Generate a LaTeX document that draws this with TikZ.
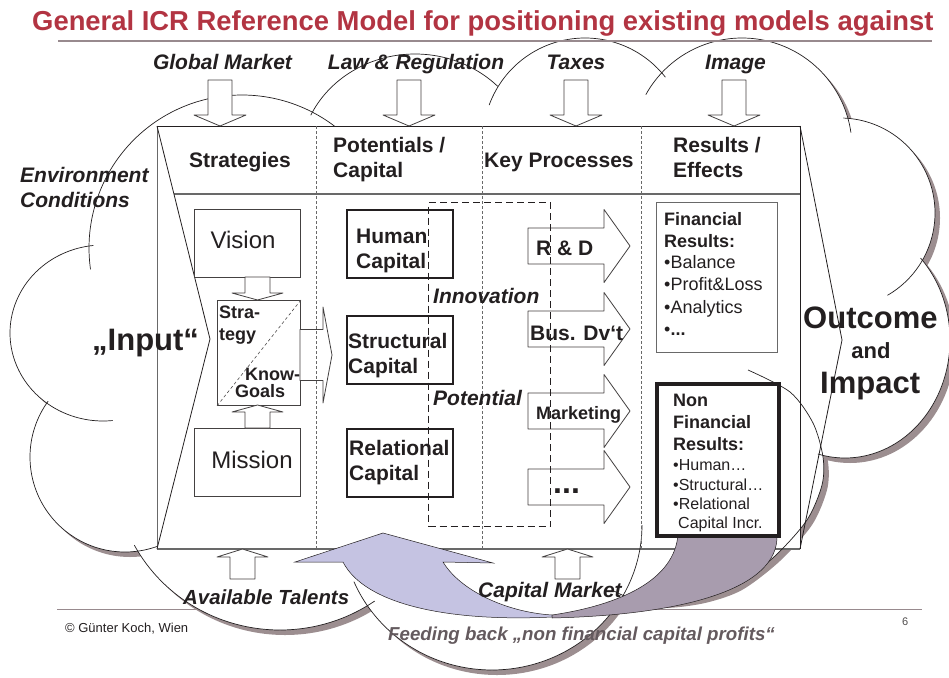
\documentclass[tikz,border=0pt]{standalone}
\usepackage{fontspec}
\setmainfont{Liberation Sans}
\definecolor{ink}{RGB}{35,31,32}
\definecolor{titlered}{RGB}{178,52,66}
\definecolor{shadowc}{RGB}{156,142,144}
\definecolor{rulec}{RGB}{152,138,142}
\definecolor{lav}{RGB}{197,195,226}
\definecolor{mauve}{RGB}{168,156,174}
\definecolor{feedc}{RGB}{100,90,94}
\definecolor{framec}{RGB}{105,105,105}
\newcommand\cloudshapes[1]{%
  \fill[#1] (242,248) circle[radius=153pt];
  \fill[#1] (415,160) ellipse[x radius=115pt,y radius=106pt];
  \fill[#1] (585,140) circle[radius=102pt];
  \fill[#1] (742,148) circle[radius=110pt];
  \fill[#1] (840,213) circle[radius=95pt];
  \fill[#1] (845,340) ellipse[x radius=105pt,y radius=118pt];
  \fill[#1] (103,333) ellipse[x radius=93pt,y radius=88pt];
  \fill[#1] (125,457) circle[radius=95pt];
  \fill[#1] (280,470) ellipse[x radius=165pt,y radius=160pt];
  \fill[#1] (492,525) ellipse[x radius=150pt,y radius=145pt];
  \fill[#1] plot[smooth] coordinates {(748,370) (790,392) (813,423) (823,457) (822,485) (807,520) (775,556) (737,585) (700,598) (660,603) (630,598) (612,590)} -- (640,520) -- (720,400) -- cycle;
}
\newcommand\lobearc[6]{\draw[cloudline] plot[domain=#5:#6, samples=90, variable=\t] ({#1+#3*cos(\t)},{#2+#4*sin(\t)});}
% name, cx, tip y, dir, shaft half, head half, head length, total length
\newcommand\vblock[8]{\draw[blockarrow] ({#2-#5},{#3-(#4)*(#8)}) -- ({#2+#5},{#3-(#4)*(#8)}) -- ({#2+#5},{#3-(#4)*(#7)}) -- ({#2+#6},{#3-(#4)*(#7)}) -- ({#2},{#3}) coordinate (#1) -- ({#2-#6},{#3-(#4)*(#7)}) -- ({#2-#5},{#3-(#4)*(#7)}) -- cycle;}
% name, tip x, cy, shaft half, head half, head length, total length
\newcommand\hblock[7]{\draw[blockarrow] ({#2-#7},{#3-#4}) -- ({#2-#6},{#3-#4}) -- ({#2-#6},{#3-#5}) -- ({#2},{#3}) coordinate (#1) -- ({#2-#6},{#3+#5}) -- ({#2-#6},{#3+#4}) -- ({#2-#7},{#3+#4}) -- cycle;}
\begin{document}
\begin{tikzpicture}[x=1pt,y=-1pt,
  cloudline/.style={draw=ink, line width=0.7pt},
  blockarrow/.style={fill=white, draw=ink!85, line width=0.8pt, line join=round},
  t/.style={inner sep=0pt, text=ink, anchor=base west},
  bi21/.style={t, font=\fontsize{21}{25}\selectfont\bfseries\itshape},
  b21/.style={t, font=\fontsize{21}{25}\selectfont\bfseries},
  b18/.style={t, font=\fontsize{18}{21}\selectfont\bfseries},
  r18/.style={t, font=\fontsize{18}{21}\selectfont},
  r16/.style={t, font=\fontsize{16}{19}\selectfont},
  r24/.style={t, font=\fontsize{24}{28}\selectfont, anchor=base},
  b31/.style={t, font=\fontsize{31}{34}\selectfont\bfseries},
  thinbox/.style={draw=ink!85, line width=0.9pt, fill=white, inner sep=0pt, anchor=north west},
  capbox/.style={draw=ink, line width=1.8pt, fill=white, inner sep=0pt, anchor=north west, minimum width=106pt, minimum height=68pt},
  divider/.style={draw=framec, line width=0.7pt, dash pattern=on 3pt off 2pt}
]
\useasboundingbox (0,0) rectangle (949,677);

% footer rule (behind cloud)
\draw[rulec, line width=1pt] (57,609) -- (922,609);

% ---------- cloud ----------
\cloudshapes{shadowc, shift={(5,5)}}
\cloudshapes{white}
\lobearc{242}{248}{153}{153}{172}{311}
\lobearc{415}{160}{115}{106}{205}{316}
\lobearc{585}{140}{102}{102}{200}{322}
\lobearc{742}{148}{110}{110}{209}{352}
\lobearc{840}{213}{95}{95}{272}{420}
\lobearc{845}{340}{105}{118}{316}{465}
\lobearc{280}{470}{165}{160}{55}{152}
\lobearc{125}{457}{95}{95}{70}{216}
\lobearc{103}{333}{93}{88}{84}{264}

% ---------- title ----------
\draw[rulec, line width=1.5pt] (58,41) -- (932,41);
\node[t, text=titlered, font=\fontsize{27.4}{30}\selectfont\bfseries] (title) at (32,31) {General ICR Reference Model for positioning existing models against};

% ---------- frame ----------
\coordinate (ftl) at (157,126);
\coordinate (ftr) at (800,126);
\coordinate (fbl) at (157,549);
\coordinate (fbr) at (800,549);
\coordinate (inapex) at (210,339);
\coordinate (outapex) at (842,340);
\coordinate (hl) at (174,194);
\coordinate (hr) at (800,194);
\fill[white] (ftl) rectangle (fbr);
\draw[framec, line width=1pt] (ftl) -- (fbl);
\draw[ink, line width=1pt] (ftl) -- (ftr) -- (fbr);
\draw[framec, line width=1.2pt] (fbl) -- (fbr);
\draw[framec, line width=1.2pt] (hl) -- (hr);
\draw[ink, line width=0.8pt] (ftl) -- (inapex) -- (fbl);
\draw[ink, line width=0.8pt] (ftr) -- (outapex) -- (fbr);

% ---------- top influence arrows ----------
\vblock{gma}{220}{126}{1}{12}{26}{11}{46}
\vblock{lra}{409}{126}{1}{12}{26}{11}{46}
\vblock{txa}{576}{126}{1}{12}{26}{11}{46}
\vblock{ima}{734}{126}{1}{12}{26}{11}{46}
\node[bi21, anchor=base] (gm) at (222.5,70) {Global Market};
\node[bi21, anchor=base] (lr) at (416,70) {Law \& Regulation};
\node[bi21, anchor=base] (tx) at (576,70) {Taxes};
\node[bi21, anchor=base] (im) at (735.5,70) {Image};

% ---------- bottom arrows ----------
\vblock{tla}{242.5}{549}{-1}{12.5}{25.5}{8}{30}
\vblock{cma}{567.5}{549}{-1}{12.5}{25.5}{8}{30}

% ---------- strategies column ----------
\node[thinbox, minimum width=106pt, minimum height=68pt] (vision) at (194,209) {};
\node[thinbox, minimum width=83pt, minimum height=105pt] (strat) at (217,300) {};
\node[thinbox, minimum width=106pt, minimum height=68pt] (mission) at (194,428) {};
\draw[ink!80, line width=0.6pt, dash pattern=on 3pt off 2.5pt] (strat.north east) -- (strat.south west);
\vblock{va}{257.5}{300}{1}{12.5}{25.5}{7}{23}
\vblock{ma}{257.5}{405}{-1}{12.5}{25.5}{7}{23}
\hblock{sra}{332}{355}{25.5}{48}{9}{32}
\node[r24] (visT) at (243,248) {Vision};
\node[r24] (misT) at (252,468) {Mission};
\node[b18] (s1) at (219,318) {Stra-};
\node[b18] (s2) at (219,340) {tegy};
\node[b18] (s3) at (245,380) {Know-};
\node[b18] (s4) at (235,397) {Goals};

% ---------- potentials column ----------
\node[capbox] (human) at (346,209) {};
\node[capbox] (struct) at (346,315) {};
\node[capbox] (relat) at (346,428) {};
\node[b21] (h1) at (356,243) {Human};
\node[b21] (h2) at (356,268) {Capital};
\node[b21] (st1) at (348,348) {Structural};
\node[b21] (st2) at (348,373) {Capital};
\node[b21] (r1) at (349,455) {Relational};
\node[b21] (r2) at (349,480) {Capital};

% ---------- process arrows ----------
\hblock{rda}{630}{246}{18}{36.5}{26}{102}
\hblock{bda}{630}{329}{18}{36.5}{26}{102}
\hblock{mka}{630}{411}{18}{36.5}{26}{102}
\hblock{dta}{630}{487}{18}{36.5}{26}{102}
\node[b21] (rd) at (536,255) {R \& D};
\node[b21] (bd) at (530,340) {Bus. Dv‘t};
\node[b18] (mk) at (536,419) {Marketing};
\node[t, font=\fontsize{32}{34}\selectfont\bfseries] (dt) at (553,493) {...};

% ---------- results column ----------
\node[thinbox, draw=framec, line width=1pt, minimum width=121pt, minimum height=150pt] (fin) at (656,202) {};
\node[b18] (f1) at (664,225) {Financial};
\node[b18] (f2) at (664,247) {Results:};
\node[r18] (f3) at (664,268) {•Balance};
\node[r18] (f4) at (664,290) {•Profit\&Loss};
\node[r18] (f5) at (664,313) {•Analytics};
\node[r18] (f6) at (664,335) {•\textbf{...}};

% cloud outlines that show over the frame
\lobearc{492}{525}{150}{145}{0}{157}
\draw[cloudline] plot[smooth] coordinates {(748,370) (790,392) (813,423) (823,457) (822,485) (807,520) (775,556) (737,585) (700,598) (660,603) (630,598) (612,590)};

% ---------- feedback arrow ----------
\filldraw[fill=lav, draw=ink, line width=0.5pt] (295,562) -- (383,533) coordinate (fbtip) -- (493,563) -- (443,562) .. controls (460,590) and (505,612) .. (552,615) -- (552,617) .. controls (450,622) and (365,605) .. (343,562) -- cycle;
\filldraw[fill=mauve, draw=ink, line width=0.5pt] (552,615) .. controls (620,605) and (675,580) .. (678,534) -- (777,534) .. controls (780,590) and (680,615) .. (552,618) -- cycle;

\node[thinbox, draw=ink, line width=4pt, minimum width=122pt, minimum height=152pt] (nonfin) at (655,382) {};
\node[b18] (n1) at (673,406) {Non};
\node[b18] (n2) at (673,428) {Financial};
\node[b18] (n3) at (673,450) {Results:};
\node[r16] (n4) at (673,470) {•Human…};
\node[r16] (n5) at (673,490) {•Structural…};
\node[r16] (n6) at (673,509) {•Relational};
\node[r16] (n7) at (678,528) {Capital Incr.};

% ---------- dashed dividers and innovation area ----------
\draw[divider] (316,126) -- (316,549);
\draw[divider] (482,126) -- (482,549);
\draw[divider] (641,126) -- (641,549);
\node[draw=ink, line width=1.1pt, dash pattern=on 7pt off 4pt, inner sep=0pt, anchor=north west, minimum width=122pt, minimum height=324pt] (innov) at (428,202) {};
\node[bi21] (inn) at (433,303) {Innovation};
\node[bi21] (pot) at (433,405) {Potential};

% ---------- headers ----------
\node[b21] (hs) at (189,167) {Strategies};
\node[b21] (hp1) at (333,152) {Potentials /};
\node[b21] (hp2) at (333,177) {Capital};
\node[b21] (hk) at (484,167) {Key Processes};
\node[b21] (hr1) at (673,152) {Results /};
\node[b21] (hr2) at (673,177) {Effects};

% ---------- side texts ----------
\node[bi21] (env1) at (20,182) {Environment};
\node[bi21] (env2) at (20,207) {Conditions};
\node[b31] (inp) at (92,350) {„Input“};
\node[b31] (out1) at (803,328) {Outcome};
\node[t, font=\fontsize{22}{25}\selectfont\bfseries, anchor=base] (out2) at (871,358) {and};
\node[b31] (out3) at (820,393) {Impact};

% ---------- bottom texts ----------
\node[t, font=\fontsize{20.4}{24}\selectfont\bfseries\itshape] (tal) at (183,604) {Available Talents};
\node[bi21] (cm) at (478,597) {Capital Market};
\node[t, text=feedc, font=\fontsize{18.7}{22}\selectfont\bfseries\itshape] (feed) at (388,640) {Feeding back „non financial capital profits“};
\node[t, font=\fontsize{13}{15}\selectfont] (copy) at (65,632) {© Günter Koch, Wien};
\node[t, text=ink!80, font=\fontsize{11}{13}\selectfont] (page) at (902,625) {6};
\end{tikzpicture}
\end{document}
